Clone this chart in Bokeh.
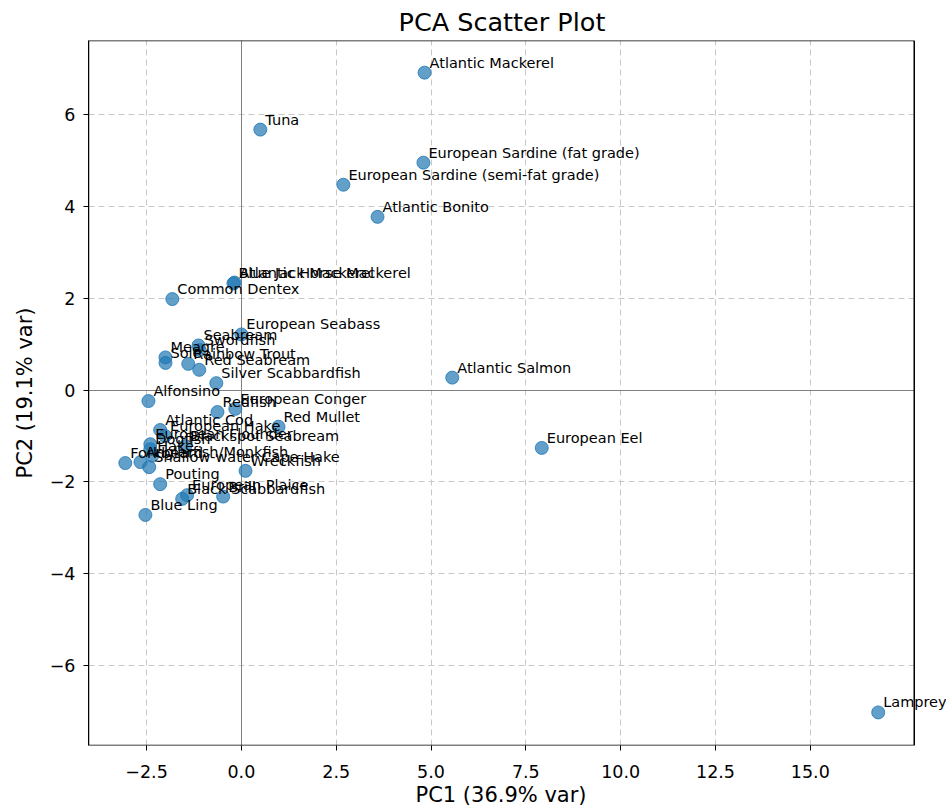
from bokeh.plotting import figure
from bokeh.models import ColumnDataSource, FixedTicker, Range1d, LabelSet, Title, BoxAnnotation
from bokeh.core.properties import value
from bokeh.embed import file_html
from bokeh.resources import INLINE

names = [
    "Atlantic Mackerel", "Tuna", "European Sardine (fat grade)", "European Sardine (semi-fat grade)",
    "Atlantic Bonito", "Atlantic Horse Mackerel", "Blue Jack Mackerel", "Common Dentex",
    "European Seabass", "Seabream", "Swordfish", "Meagre", "Sole", "Rainbow Trout",
    "Red Seabream", "Silver Scabbardfish", "Alfonsino", "Redfish", "European Conger",
    "Red Mullet", "Atlantic Cod", "European Hake", "Blackspot Seabream", "European Flounder",
    "Dogfish", "Hake", "Anglerfish/Monkfish", "Forkbeard", "Shallow-water Cape Hake",
    "Pouting", "Wreckfish", "European Plaice", "Black Scabbardfish", "Brill", "Blue Ling",
    "Atlantic Salmon", "European Eel", "Lamprey",
]
pc1 = [
    4.83, 0.50, 4.80, 2.69,
    3.59, -0.18, -0.21, -1.82,
    0.00, -1.13, -1.10, -2.00, -2.00, -1.40,
    -1.11, -0.66, -2.45, -0.63, -0.16,
    0.98, -2.14, -2.01, -1.48, -2.40,
    -2.40, -2.35, -2.66, -3.06, -2.43,
    -2.14, 0.11, -1.43, -1.56, -0.48, -2.53,
    5.56, 7.92, 16.79,
]
pc2 = [
    6.91, 5.67, 4.95, 4.47,
    3.77, 2.34, 2.32, 1.98,
    1.21, 0.97, 0.87, 0.71, 0.59, 0.57,
    0.44, 0.15, -0.24, -0.48, -0.41,
    -0.80, -0.87, -1.00, -1.22, -1.18,
    -1.29, -1.43, -1.57, -1.59, -1.68,
    -2.05, -1.76, -2.29, -2.37, -2.32, -2.72,
    0.27, -1.26, -7.02,
]

x_ticks = [-2.5, 0.0, 2.5, 5.0, 7.5, 10.0, 12.5, 15.0]
x_tick_labels = ["\u22122.5", "0.0", "2.5", "5.0", "7.5", "10.0", "12.5", "15.0"]
y_ticks = [-6, -4, -2, 0, 2, 4, 6]
y_tick_labels = ["\u22126", "\u22124", "\u22122", "0", "2", "4", "6"]
zero_line = [0]

FONT = "DejaVu Sans"

# axes box (matplotlib-like): visible data window
X_MIN, X_MAX = -4.03, 17.74
Y_MIN, Y_MAX = -7.74, 7.61
PX_PER_UNIT = 37.93
FRAME_LEFT, FIG_W = 88, 946
X_END = X_MIN + (FIG_W - FRAME_LEFT) / PX_PER_UNIT   # extra room so outer labels are not clipped

p = figure(width=FIG_W, height=810, output_backend="svg", toolbar_location=None,
           x_range=Range1d(X_MIN, X_END), y_range=Range1d(Y_MIN, Y_MAX),
           min_border_left=FRAME_LEFT, min_border_right=0, min_border_top=40, min_border_bottom=65)

p.add_layout(Title(text="PCA Scatter Plot", align="left", offset=310, standoff=7,
                   text_font=FONT, text_font_size="25.5px", text_font_style="normal",
                   text_color="black"), "above")

p.outline_line_color = None
p.background_fill_color = "white"
p.border_fill_color = "white"

p.yaxis.axis_label = "PC2 (19.1% var)"
for ax in (p.xaxis, p.yaxis):
    ax.axis_label_text_font = FONT
    ax.axis_label_text_font_size = "21px"
    ax.axis_label_text_font_style = "normal"
    ax.axis_label_text_color = "black"
    ax.major_label_text_font = FONT
    ax.major_label_text_font_size = "17.5px"
    ax.major_label_text_color = "black"
    ax.axis_line_color = "black"
    ax.major_tick_line_color = "black"
    ax.major_tick_out = 5
    ax.major_tick_in = 0
    ax.minor_tick_line_color = None
p.xaxis.axis_line_color = None
p.xaxis.major_label_standoff = 14
p.yaxis.major_label_standoff = 8
p.yaxis.axis_label_standoff = 10

p.add_layout(Title(text="PC1 (36.9% var)", align="left", offset=327,
                   text_font=FONT, text_font_size="21px", text_font_style="normal",
                   text_color="black", standoff=0), "below")

p.xaxis.ticker = FixedTicker(ticks=x_ticks)
p.xaxis.major_label_overrides = {t: l for t, l in zip(x_ticks, x_tick_labels)}
p.yaxis.ticker = FixedTicker(ticks=y_ticks)
p.yaxis.major_label_overrides = {t: l for t, l in zip(y_ticks, y_tick_labels)}

p.xgrid.grid_line_color = "#c8c8c8"
p.ygrid.grid_line_color = "#c8c8c8"
p.xgrid.grid_line_dash = "6 4"
p.ygrid.grid_line_dash = "6 4"
p.xgrid.grid_line_width = 1
p.ygrid.grid_line_width = 1

# zero lines as glyphs (drawn before the blank strip so it hides their overflow)
p.hspan(y=zero_line, line_color="#808080", line_width=1)
p.vspan(x=zero_line, line_color="#808080", line_width=1)

# blank the strip right of the axes box
p.quad(left=[X_MAX], right=[X_END + 1], bottom=[Y_MIN - 1], top=[Y_MAX + 1],
       fill_color="white", line_color=None)

# axes box outline
p.add_layout(BoxAnnotation(left=X_MIN, right=X_MAX, fill_alpha=0, fill_color=None,
                           line_color="black", line_width=1.5, line_alpha=1))

src = ColumnDataSource(dict(x=pc1, y=pc2, name=names))
p.scatter("x", "y", source=src, size=13, fill_color="#1f77b4", fill_alpha=0.7,
          line_color="#1f77b4", line_alpha=0.8, line_width=1)
labels = LabelSet(x="x", y="y", text="name", source=src, x_offset=5, y_offset=2,
                  text_font=value(FONT), text_font_size="14.5px", text_color="black",
                  text_baseline="bottom", text_align="left")
p.add_layout(labels)

open("out.html", "w").write(file_html(p, INLINE))
